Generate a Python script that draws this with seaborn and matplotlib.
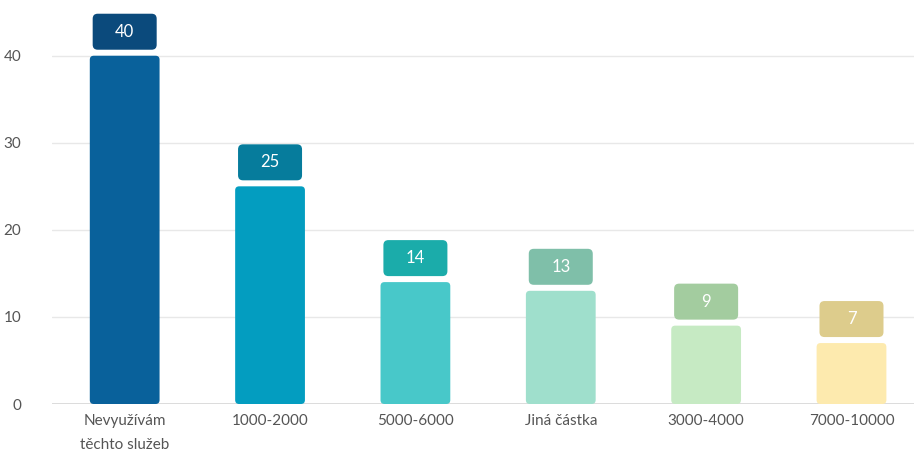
import matplotlib
matplotlib.use("Agg")
import matplotlib.pyplot as plt
from matplotlib.patches import FancyBboxPatch
import seaborn as sns
import pandas as pd

categories = ["Nevyužívám\ntěchto služeb", "1000-2000", "5000-6000", "Jiná částka", "3000-4000", "7000-10000"]
values = [40, 25, 14, 13, 9, 7]
bar_colors = ["#09619b", "#039dc0", "#48c8c9", "#9fdfcc", "#c6eac3", "#fdeaae"]
label_colors = ["#0b4a7c", "#067c9c", "#1bacaa", "#7fbfa9", "#a3cc9f", "#ddcc8c"]
y_ticks = [0, 10, 20, 30, 40]

sns.set_theme(style="white")
plt.rcParams["font.family"] = ["Lato", "DejaVu Sans"]

df = pd.DataFrame({"category": categories, "value": values})

fig = plt.figure(figsize=(9.14, 4.55), dpi=100)
ax = fig.add_axes([52 / 914, 51 / 455, 1 - 52 / 914, 1 - 51 / 455])

sns.barplot(data=df, x="category", y="value", hue="category", palette=bar_colors,
            width=0.48, legend=False, ax=ax, saturation=1)

ax.set_xlim(-0.5, 5.43)
ax.set_ylim(0, 46.4)

# px per data unit for rounding corners in both directions
px_x = 914 * (1 - 52 / 914) / (5.43 + 0.5)
px_y = 455 * (1 - 51 / 455) / 46.4
aspect = px_x / px_y

for patch, color in zip(list(ax.patches), bar_colors):
    x0, w, h = patch.get_x(), patch.get_width(), patch.get_height()
    patch.set_visible(False)
    r = 4 / px_x
    rb = FancyBboxPatch((x0, 0), w, h, boxstyle=f"round,pad=0,rounding_size={r}",
                        mutation_aspect=aspect, fc=color, ec="none", zorder=3)
    ax.add_patch(rb)

# value labels in rounded boxes above each bar
box_w = 64 / px_x
box_h = 36 / px_y
gap = 6 / px_y
for i, (v, lc) in enumerate(zip(values, label_colors)):
    bx = i - box_w / 2
    by = v + gap
    lb = FancyBboxPatch((bx, by), box_w, box_h,
                        boxstyle=f"round,pad=0,rounding_size={5 / px_x}",
                        mutation_aspect=aspect, fc=lc, ec="none", zorder=4, clip_on=False)
    ax.add_patch(lb)
    ax.text(i, by + box_h / 2, str(v), ha="center", va="center", color="white",
            fontsize=12, zorder=5, clip_on=False)

ax.set_yticks(y_ticks)
ax.yaxis.grid(True, color="#e8e8e8", linewidth=1)
ax.set_axisbelow(True)
ax.axhline(0, color="#d6d6d6", linewidth=1.2, zorder=2)
for s in ax.spines.values():
    s.set_visible(False)
ax.set_xlabel("")
ax.set_ylabel("")
ax.tick_params(axis="y", length=0, pad=22, labelsize=11, labelcolor="#555555")
ax.tick_params(axis="x", length=0, pad=7, labelsize=11, labelcolor="#555555")
for t in ax.get_xticklabels():
    t.set_linespacing(1.9)
    t.set_va("top")

fig.savefig("out.png", dpi=100)
